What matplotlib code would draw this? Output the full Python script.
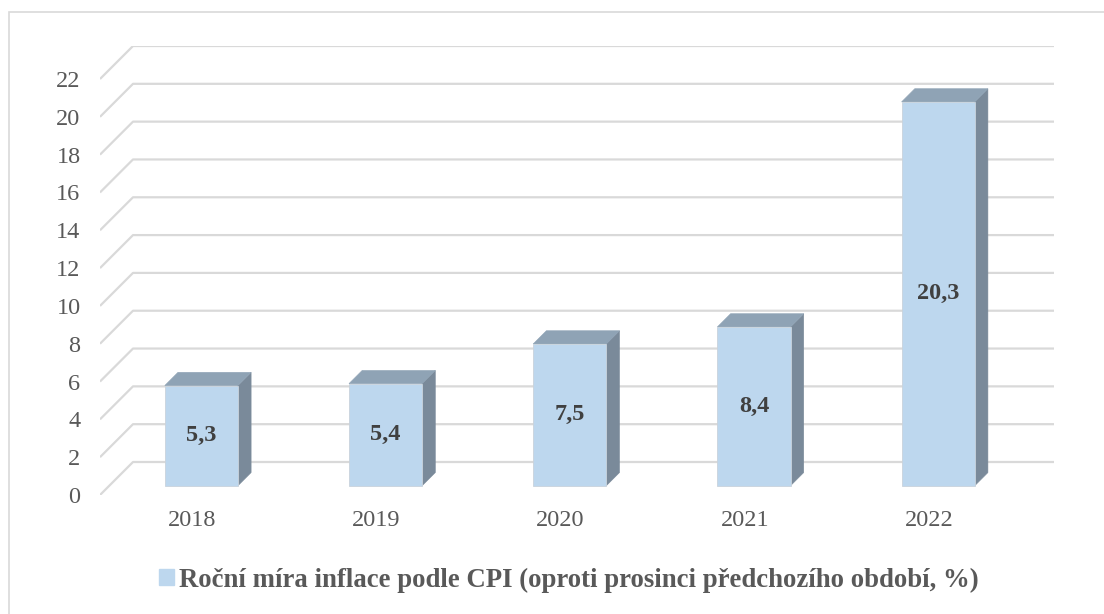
import matplotlib.pyplot as plt
from matplotlib.patches import Polygon, Rectangle, Patch

years = ['2018', '2019', '2020', '2021', '2022']
values = [5.3, 5.4, 7.5, 8.4, 20.3]
labels = ['5,3', '5,4', '7,5', '8,4', '20,3']
yticks = list(range(0, 23, 2))
legend_label = 'Roční míra inflace podle CPI (oproti prosinci předchozího období, %)'

plt.rcParams['font.family'] = ['Liberation Serif', 'DejaVu Serif']

W, H = 1104, 614
fig = plt.figure(figsize=(W / 100, H / 100), dpi=100)

# axes placed in pixels: front plane x 100..1021, back wall reaches 1054; y=0 at 495, top at 46
left, right, bottom, top = 100, 1054, 495, 46
ax = fig.add_axes([left / W, 1 - bottom / H, (right - left) / W, (bottom - top) / H])

ymax = 22
px_unit = (495 - 79) / ymax
px_cat = (1021 - 100) / 5
dx = 33 / px_cat      # depth offset in x data units
dy = 33 / px_unit     # depth offset in y data units
ax.set_xlim(-0.5, 4.5 + dx)
ax.set_ylim(0, ymax + dy)

grid_c = '#d9d9d9'
for v in yticks:
    ax.plot([-0.5, -0.5 + dx, 4.5 + dx], [v, v + dy, v + dy], color=grid_c, lw=1.6,
            solid_capstyle='butt', zorder=1)

front_c = '#bdd7ee'
side_c = '#7a8a9a'
top_c = '#8fa3b5'
f0 = 0.28   # position of bar front inside the depth
t = 0.4     # bar depth
bw = 0.397
for i, v in enumerate(values):
    x0 = i - bw / 2 + f0 * dx
    x1 = x0 + bw
    b = f0 * dy
    ax.bar(x0 + bw / 2, v, width=bw, bottom=b, color=front_c, edgecolor='#c9d3dc', lw=0.6, zorder=3)
    side = Polygon([(x1, b), (x1 + t * dx, b + t * dy), (x1 + t * dx, b + v + t * dy), (x1, b + v)],
                   closed=True, facecolor=side_c, edgecolor=side_c, lw=0.4, zorder=2)
    topf = Polygon([(x0, b + v), (x1, b + v), (x1 + t * dx, b + v + t * dy), (x0 + t * dx, b + v + t * dy)],
                   closed=True, facecolor=top_c, edgecolor=top_c, lw=0.4, zorder=2)
    ax.add_patch(side)
    ax.add_patch(topf)
    ax.text(x0 + bw / 2, b + v / 2, labels[i], ha='center', va='center', fontsize=17.5,
            fontweight='bold', color='#404040', zorder=4)

ax.set_xticks(range(len(years)))
ax.set_xticklabels(years)
ax.set_yticks(yticks)
ax.set_yticklabels([str(v) for v in yticks])
ax.tick_params(axis='both', length=0, labelsize=17.5, labelcolor='#595959')
ax.tick_params(axis='y', pad=14)
ax.tick_params(axis='x', pad=11)
for s in ax.spines.values():
    s.set_visible(False)

# outer chart frame (right and bottom edges fall outside the image)
fig.add_artist(Rectangle((9 / W, 1 - 640 / H), (1130 - 9) / W, (640 - 12) / H,
                         transform=fig.transFigure, fill=False, edgecolor='#d9d9d9', lw=1.2))

fig.legend(handles=[Patch(color=front_c, label=legend_label)], loc='center',
           bbox_to_anchor=(569 / W, 1 - 580 / H), frameon=False, handlelength=0.55,
           handleheight=0.55, handletextpad=0.2,
           prop={'size': 19.3, 'weight': 'bold'}, labelcolor='#595959')

fig.savefig('out.png', dpi=100)
